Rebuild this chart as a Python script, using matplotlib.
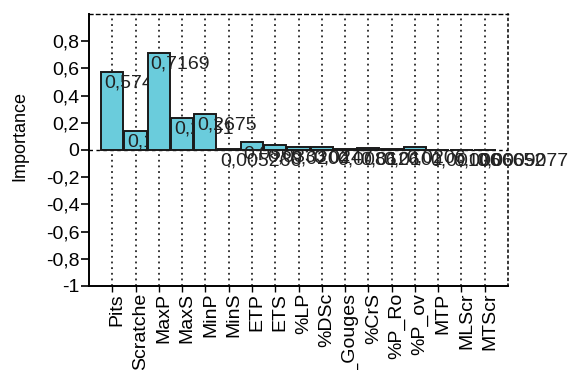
import matplotlib
matplotlib.use("Agg")
import matplotlib.pyplot as plt
import matplotlib.transforms as mtransforms
from matplotlib import ticker

# dati
categorie = ["Pits", "Scratche", "MaxP", "MaxS", "MinP", "MinS", "ETP", "ETS", "%LP",
             "%DSc", "%_Gouges", "%CrS", "%P_Ro", "%P_ov", "MTP", "MLScr", "MTScr"]
importanza = [0.5741, 0.1432, 0.7169, 0.2351, 0.2675, 0.005266, 0.0566, 0.0333, 0.0204,
              0.0247, 0.0086, 0.0126, 0.0101, 0.0206, 0.00106, 0.0006652, 0.0009077]
yticks_values = [-1, -0.8, -0.6, -0.4, -0.2, 0, 0.2, 0.4, 0.6, 0.8]

plt.rcParams['font.family'] = ['Liberation Sans', 'DejaVu Sans']
plt.rcParams['axes.unicode_minus'] = False
fs = 14

fig = plt.figure(figsize=(5.77, 3.70), dpi=100)
ax = fig.add_axes([89 / 577, 1 - 286 / 370, (508 - 89) / 577, (286 - 14) / 370])

n = len(categorie)
ax.set_xlim(-1, n)
ax.set_ylim(-1, 1)

# griglia verticale punteggiata e linea dello zero
for i in range(n):
    ax.axvline(i, color='black', linestyle=(0, (1.2, 2.5)), linewidth=1.1, zorder=1)
ax.axhline(0, color='black', linestyle=(0, (2.5, 2.5)), linewidth=1.0, zorder=1)

# barre con etichette: ogni barra copre l'etichetta della precedente
for i, v in enumerate(importanza):
    ax.bar(i, v, width=0.95, color='#6ACCDC', edgecolor='#1a1a1a', linewidth=1.4, zorder=2 + 2 * i)
    etichetta = f'{v:g}'.replace('.', ',')
    ax.annotate(etichetta, xy=(i - 0.475, v), xytext=(2, -2), textcoords='offset points',
                ha='left', va='top', fontsize=fs, color='#222222', zorder=3 + 2 * i,
                annotation_clip=False)

# bordi
ax.spines['top'].set_linestyle((0, (2.5, 2.5)))
ax.spines['top'].set_linewidth(1.0)
ax.spines['right'].set_linestyle((0, (1.2, 2.5)))
ax.spines['right'].set_linewidth(1.1)
ax.spines['left'].set_linewidth(1.4)
ax.spines['bottom'].set_linewidth(1.4)

ax.set_yticks(yticks_values)
ax.yaxis.set_major_formatter(ticker.FuncFormatter(lambda x, pos: f'{x:g}'.replace('.', ',')))
ax.tick_params(axis='y', direction='out', length=6, width=1.2, labelsize=fs, pad=1)

ax.set_xticks(range(n))
ax.set_xticklabels(categorie, rotation=90, fontsize=fs)
ax.tick_params(axis='x', direction='out', length=4, width=1.0, pad=1)
offset = mtransforms.ScaledTranslation(5 / 100, 0, fig.dpi_scale_trans)
for lab in ax.get_xticklabels():
    lab.set_transform(lab.get_transform() + offset)

ax.set_ylabel('Importance', fontsize=fs - 1)
ax.yaxis.set_label_coords((28 - 89) / 419, 0.55)

fig.savefig('out.png', dpi=100)
